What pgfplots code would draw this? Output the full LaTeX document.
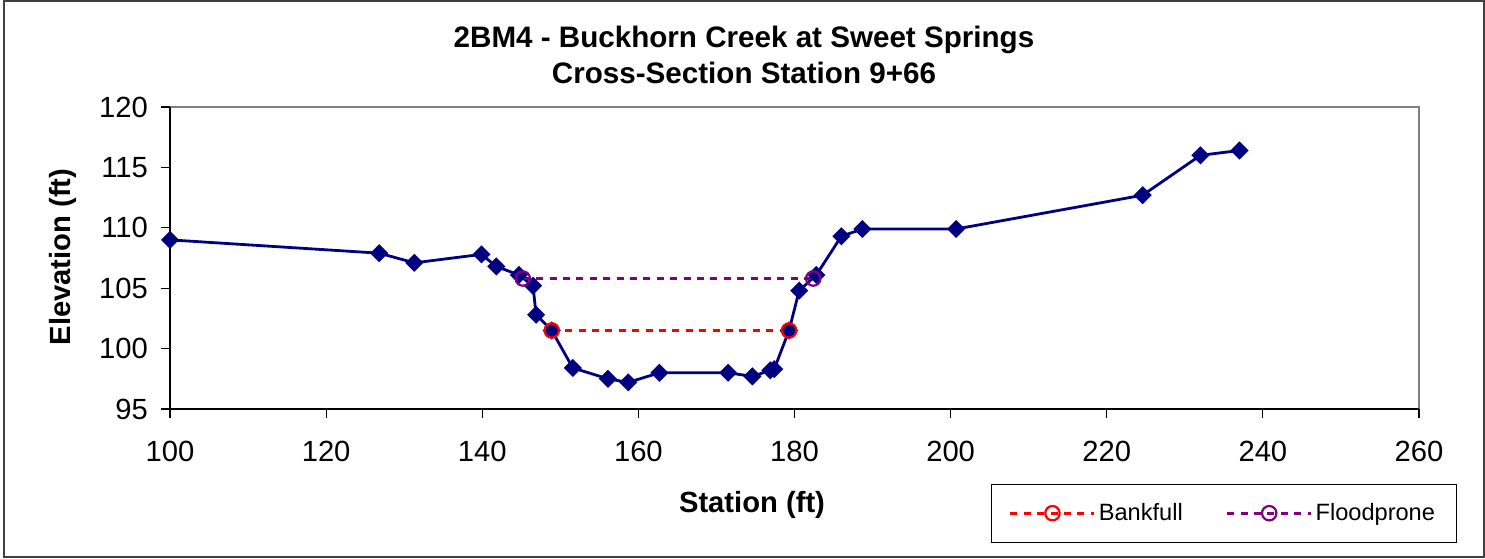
\documentclass[border=0pt]{standalone}
\usepackage{pgfplots}
\pgfplotsset{compat=1.18}
\usepackage{fontspec}
\setmainfont{Liberation Sans}
\definecolor{xlnavy}{RGB}{0,0,128}
\definecolor{xlpurple}{RGB}{128,0,128}
\definecolor{xlgray}{RGB}{128,128,128}

\begin{document}
\begin{tikzpicture}[x=1pt,y=1pt]
\useasboundingbox (0,0) rectangle (742.5,279);
\draw[xlgray!50!black, line width=0.8pt] (2,0.5) rectangle (742.1,278.6);
\node[anchor=base, font=\bfseries\fontsize{14.8}{17}\selectfont] at (372,255) {2BM4 - Buckhorn Creek at Sweet Springs};
\node[anchor=base, font=\bfseries\fontsize{14.8}{17}\selectfont] at (372,237) {Cross-Section Station 9+66};
\node[rotate=90, font=\bfseries\fontsize{14.6}{17}\selectfont] at (31.5,150.5) {Elevation (ft)};
\node[font=\bfseries\fontsize{14.6}{17}\selectfont] at (376,26.5) {Station (ft)};
\begin{axis}[
    width=624.5pt, height=151pt, scale only axis,
    at={(85pt,74.5pt)}, anchor=south west,
    xmin=100, xmax=260, ymin=95, ymax=120,
    xtick={100,120,...,260}, ytick={95,100,...,120},
    axis lines*=left, axis line style={-, black, line width=0.7pt},
    axis background/.style={draw=xlgray, line width=1pt},
    tick align=outside, major tick length=4.5pt,
    tick style={black, line width=0.6pt},
    /pgf/number format/assume math mode=true,
    ticklabel style={font=\fontsize{14.6}{17}\selectfont},
    xticklabel style={yshift=-8pt},
    yticklabel style={xshift=-3pt},
    clip=false,
    legend columns=2,
    legend style={at={(0.8435,-0.345)}, anchor=center, draw=black, line width=0.5pt,
        font=\fontsize{11.8}{14}\selectfont, inner xsep=9pt, inner ysep=8pt,
        nodes={inner sep=1.5pt},
        /tikz/every even column/.append style={column sep=20pt}},
    legend image code/.code={\draw[mark repeat=2,mark phase=2,#1]
        plot coordinates {(0pt,0pt)(21pt,0pt)(42pt,0pt)};},
]
% ground profile
\addplot[xlnavy, line width=1.4pt, mark=square*, mark size=2.5pt,
    mark options={rotate=45, solid}, forget plot] coordinates {
    (100,109.0)(126.8,107.9)(131.3,107.1)(139.9,107.8)(141.8,106.8)
    (144.7,106.1)(146.5,105.2)(146.9,102.8)(148.9,101.5)(151.6,98.4)
    (156.1,97.5)(158.7,97.2)(162.7,98.0)(171.5,98.0)(174.6,97.7)
    (176.9,98.2)(177.4,98.3)(179.3,101.5)(180.6,104.8)(182.8,106.1)
    (186.0,109.3)(188.7,109.9)(200.7,109.9)(224.6,112.7)(232.0,116.0)
    (237.0,116.4)};
\addplot[red, line width=1.4pt, dash pattern=on 3.5pt off 3.2pt, mark=o, mark size=3.6pt,
    mark options={solid, line width=1.1pt}] coordinates {(148.9,101.5)(179.3,101.5)};
\addlegendentry{Bankfull}
\addplot[xlpurple, line width=1.4pt, dash pattern=on 3.5pt off 3.2pt, mark=o, mark size=3.6pt,
    mark options={solid, line width=1.1pt}] coordinates {(145.2,105.8)(182.4,105.8)};
\addlegendentry{Floodprone}
\end{axis}
\end{tikzpicture}
\end{document}
